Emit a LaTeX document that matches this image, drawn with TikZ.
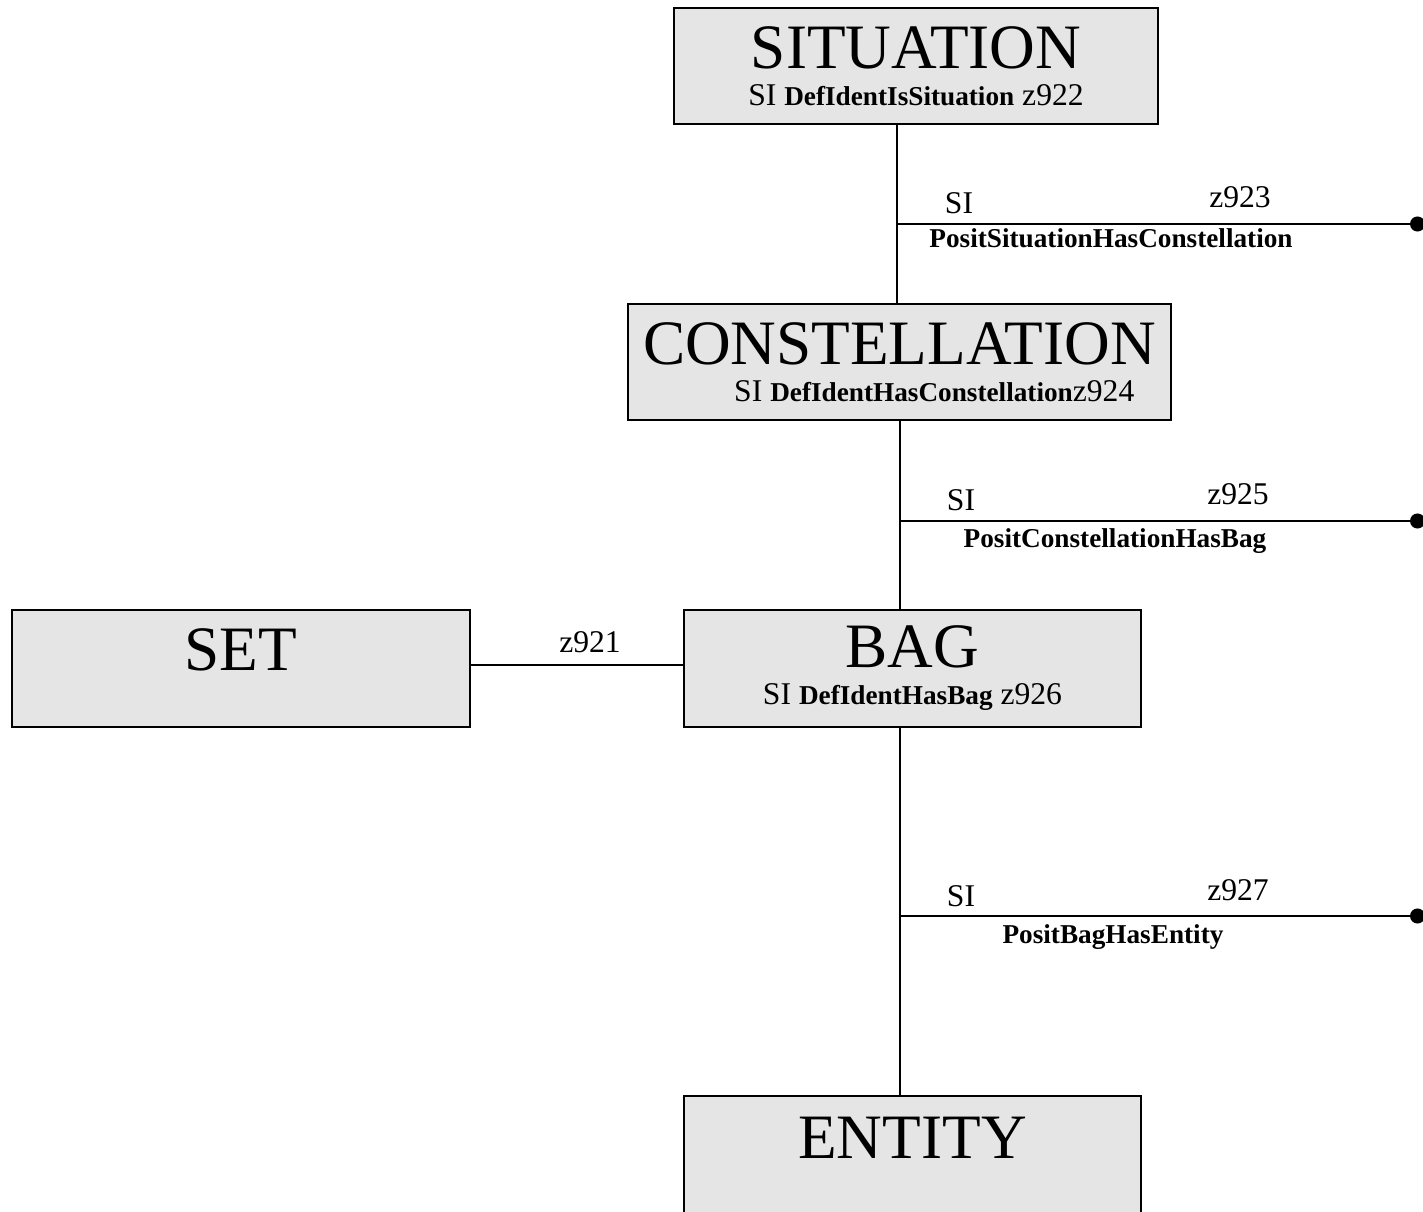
\documentclass[tikz,border=0pt]{standalone}
\usepackage{fontspec}
\setmainfont{Liberation Serif}
\usetikzlibrary{arrows.meta,positioning}
\definecolor{boxgray}{HTML}{E5E5E5}
\newcommand{\titlesize}{\fontsize{36}{21}\selectfont}
\newcommand{\subsize}{\fontsize{18}{21}\selectfont}
\newcommand{\rolesize}{\fontsize{15.5}{21}\selectfont\bfseries}

\begin{document}
\begin{tikzpicture}[
  x=0.02cm, y=-0.02cm,
  font=\subsize,
  ent/.style={draw,line width=1.1pt,fill=boxgray,align=center,inner sep=0pt,
              minimum width=9.14cm,minimum height=2.34cm},
  link/.style={line width=1.1pt},
  dot/.style={link,-{Circle[length=0.3cm,width=0.3cm]}},
  lbl/.style={inner sep=0pt,anchor=base},
  role/.style={lbl,font=\rolesize},
]
\useasboundingbox (0,0) rectangle (1423,1212);

% ---- the boxes
\node[ent,minimum width=9.68cm,minimum height=2.32cm] (situation) at (916,66)
  {{\titlesize SITUATION}\\SI {\rolesize DefIdentIsSituation} z922};
\node[ent,minimum width=10.86cm,minimum height=2.32cm] (constellation) at (899.5,362)
  {{\titlesize CONSTELLATION}\\\hspace*{2.2em}SI {\rolesize DefIdentHasConstellation}z924};
\node[ent] (bag) at (912.5,668.5)
  {{\titlesize BAG}\\SI {\rolesize DefIdentHasBag} z926};
\node[ent,minimum width=9.16cm] (set) at (241,668.5)
  {{\titlesize SET}\\\phantom{SI}};
\node[ent,minimum height=2.4cm] (entity) at (912.5,1156)
  {{\titlesize ENTITY}\\\phantom{SI}};

% ---- spine
\coordinate (spineA) at (897,0);
\coordinate (spineB) at (900,0);
\draw[link] (situation.south -| spineA) -- (constellation.north -| spineA);
\draw[link] (constellation.south -| spineB) -- (bag.north -| spineB);
\draw[link] (bag.south -| spineB) -- (entity.north -| spineB);

% ---- posits off to the right
\coordinate (hasconst) at (897,224);
\coordinate (hasconstend) at (1425,224);
\draw[dot] (hasconst) -- (hasconstend);
\node[lbl] (si1) at (959,214) {SI};
\node[lbl] (z923) at (1240,208) {z923};
\node[role] (posit1) at (1111,248) {PositSituationHasConstellation};

\coordinate (hasbag) at (900,521);
\coordinate (hasbagend) at (1425,521);
\draw[dot] (hasbag) -- (hasbagend);
\node[lbl] (si2) at (961,511) {SI};
\node[lbl] (z925) at (1238,505) {z925};
\node[role] (posit2) at (1115,548) {PositConstellationHasBag};

\coordinate (hasent) at (900,916);
\coordinate (hasentend) at (1425,916);
\draw[dot] (hasent) -- (hasentend);
\node[lbl] (si3) at (961,906) {SI};
\node[lbl] (z927) at (1238,900) {z927};
\node[role] (posit3) at (1113,943) {PositBagHasEntity};

% ---- set to bag
\coordinate (setbagrow) at (0,665);
\draw[link] (set.east |- setbagrow) -- (bag.west |- setbagrow);
\node[lbl] (z921) at (590,653) {z921};
\end{tikzpicture}
\end{document}
